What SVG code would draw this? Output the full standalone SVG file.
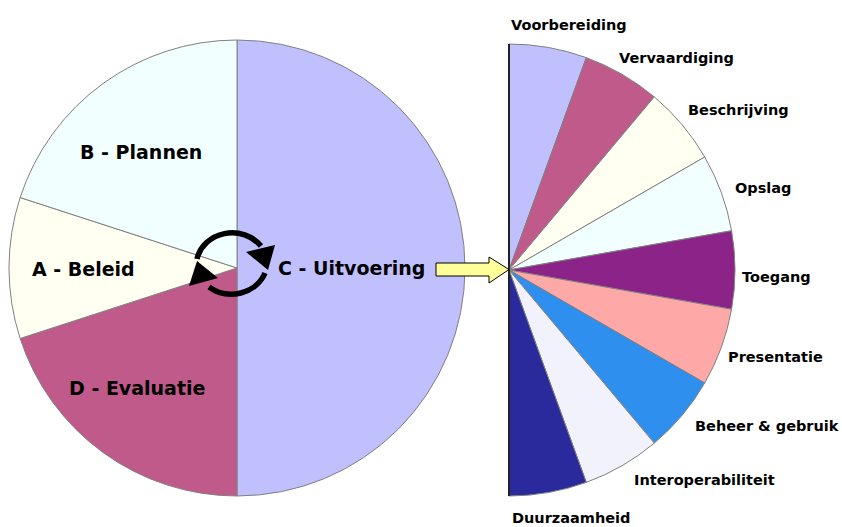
<svg xmlns="http://www.w3.org/2000/svg" width="842" height="527" viewBox="0 0 842 527">
<style>
.sl{stroke:#808080;stroke-width:1}
.big{font-family:"DejaVu Sans","Liberation Sans",sans-serif;font-weight:bold;font-size:19px;fill:#000}
.sm{font-family:"DejaVu Sans","Liberation Sans",sans-serif;font-weight:bold;font-size:14.5px;fill:#000}
.cyc{fill:none;stroke:#000;stroke-width:5.5}
</style>
<rect width="842" height="527" fill="#fff"/>
<g id="left-pie">
<g id="C"><path class="sl" fill="#C0C0FF" d="M237,268 L237,40 A228,228 0 0 1 237,496 Z"/><text class="big" x="278" y="275">C - Uitvoering</text></g>
<g id="D"><path class="sl" fill="#C05A8A" d="M237,268 L237,496 A228,228 0 0 1 20.15,338.45 Z"/><text class="big" x="69" y="395">D - Evaluatie</text></g>
<g id="A"><path class="sl" fill="#FFFFF2" d="M237,268 L20.15,338.45 A228,228 0 0 1 20.15,197.55 Z"/><text class="big" x="32" y="276">A - Beleid</text></g>
<g id="B"><path class="sl" fill="#F2FFFF" d="M237,268 L20.15,197.55 A228,228 0 0 1 237,40 Z"/><text class="big" x="80" y="159">B - Plannen</text></g>
</g>
<g id="right-pie">
<g id="Voorbereiding"><path class="sl" fill="#C0C0FF" d="M509,270 L509,44 A226,226 0 0 1 586.3,57.63 Z"/><text class="sm" x="511" y="30">Voorbereiding</text></g>
<g id="Vervaardiging"><path class="sl" fill="#C05A8A" d="M509,270 L586.3,57.63 A226,226 0 0 1 654.27,96.88 Z"/><text class="sm" x="619" y="63">Vervaardiging</text></g>
<g id="Beschrijving"><path class="sl" fill="#FFFFF2" d="M509,270 L654.27,96.88 A226,226 0 0 1 704.72,157 Z"/><text class="sm" x="688" y="115">Beschrijving</text></g>
<g id="Opslag"><path class="sl" fill="#F2FFFF" d="M509,270 L704.72,157 A226,226 0 0 1 731.57,230.76 Z"/><text class="sm" x="735" y="193">Opslag</text></g>
<g id="Toegang"><path class="sl" fill="#8C2389" d="M509,270 L731.57,230.76 A226,226 0 0 1 731.57,309.24 Z"/><text class="sm" x="742" y="282">Toegang</text></g>
<g id="Presentatie"><path class="sl" fill="#FFA8A8" d="M509,270 L731.57,309.24 A226,226 0 0 1 704.72,383 Z"/><text class="sm" x="728" y="362">Presentatie</text></g>
<g id="Beheer"><path class="sl" fill="#2F8FEF" d="M509,270 L704.72,383 A226,226 0 0 1 654.27,443.12 Z"/><text class="sm" x="695" y="431">Beheer &amp; gebruik</text></g>
<g id="Interoperabiliteit"><path class="sl" fill="#F2F2FC" d="M509,270 L654.27,443.12 A226,226 0 0 1 586.3,482.37 Z"/><text class="sm" x="634" y="485">Interoperabiliteit</text></g>
<g id="Duurzaamheid"><path class="sl" fill="#2A2A9C" d="M509,270 L586.3,482.37 A226,226 0 0 1 509,496 Z"/><text class="sm" x="512" y="523">Duurzaamheid</text></g>
<line x1="509" y1="44" x2="509" y2="496" stroke="#222" stroke-width="2"/>
</g>
<g id="connectors">
<polygon points="436,263 489,263 489,257 509,269.5 489,283 489,276 436,276" fill="#FFFF99" stroke="#000" stroke-width="1"/>
<path class="cyc" d="M197,259 A36,33 0 0 1 261,246"/>
<polygon points="246,252 275,245 268,270" fill="#000"/>
<path class="cyc" d="M265,273 A36,33 0 0 1 209,287"/>
<polygon points="189,286 218,278 197,261" fill="#000"/>
</g>
</svg>
